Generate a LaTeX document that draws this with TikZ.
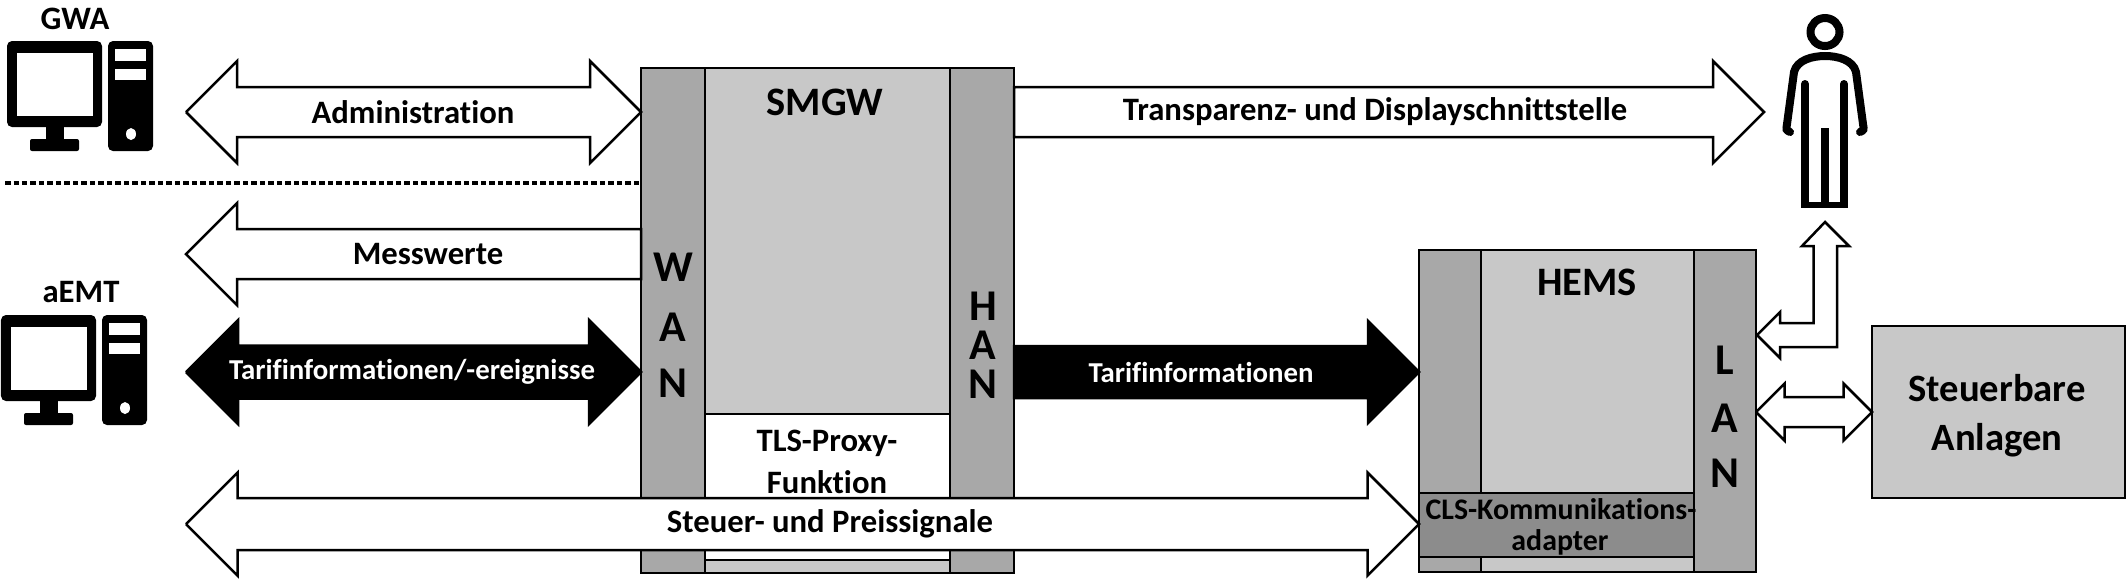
\documentclass[tikz,border=0pt]{standalone}
\usepackage{fontspec}
\setmainfont[Ligatures=NoCommon]{Carlito}
\usetikzlibrary{calc}
\definecolor{portgrey}{RGB}{168,168,168}
\definecolor{coregrey}{RGB}{200,200,200}
\definecolor{clsgrey}{RGB}{140,140,140}
\tikzset{
  box/.style={draw=black,line width=0.25mm,inner sep=0pt,outer sep=0pt},
  lbl/.style={font=\bfseries\fontsize{9.3}{11}\selectfont,inner sep=0pt,align=center},
  lblbig/.style={font=\bfseries\fontsize{11.5}{12}\selectfont,inner sep=0pt,align=center},
  lblsmall/.style={font=\bfseries\fontsize{8.2}{10}\selectfont,inner sep=0pt,align=center},
  letter/.style={font=\bfseries\fontsize{12.5}{13}\selectfont,inner sep=0pt},
  arrowline/.style={draw=black,fill=white,line width=0.25mm,line join=miter},
  twoway/.style 2 args={to path={
    -- ++(#1,-#1) -- ++(0,{#1-#2}) -- ($(\tikztotarget)+(-#1,-#2)$) -- ++(0,{#2-#1})
    -- (\tikztotarget) -- ++(-#1,#1) -- ++(0,{#2-#1}) -- ($(\tikztostart)+(#1,#2)$)
    -- ++(0,{#1-#2}) -- (\tikztostart)
  }},
  oneway/.style n args={3}{to path={
    -- ++(0,-#2) -- ($(\tikztotarget)+({-#3*#1},-#2)$) -- ++(0,{#2-#1})
    -- (\tikztotarget) -- ++({-#3*#1},#1) -- ++(0,{#2-#1}) -- ($(\tikztostart)+(0,#2)$) -- (\tikztostart)
  }},
  computer/.pic={
    \fill[black,rounded corners=0.5mm] (7,41) rectangle (102,127);
    \fill[white] (16.5,53) rectangle (93,116);
    \fill[black] (46,127) rectangle (64,140);
    \fill[black,rounded corners=0.2mm] (30,139) rectangle (79,151);
    \fill[black,rounded corners=0.5mm] (108,41) rectangle (153,151);
    \fill[white] (115,49) rectangle (146,61);
    \fill[white] (115,69) rectangle (146,80);
    \fill[white] (131,134) ellipse (5 and 6);
  }
}
\begin{document}
\begin{tikzpicture}[x=0.1mm,y=-0.1mm]
\useasboundingbox (0,0) rectangle (2126,584);

% computers
\pic at (0,0) {computer};
\pic at (-6,274) {computer};
\node[lbl] (gwa) at (75,19) {GWA};
\node[lbl] (aemt) at (81,292) {aEMT};

% SMGW
\node[box,fill=coregrey,minimum width=24.5mm,minimum height=50.5mm] (smgw) at (827.5,320.5) {};
\node[box,fill=white,minimum width=24.5mm,minimum height=14.6mm] (tls) at (827.5,487) {};
\node[box,fill=portgrey,minimum width=6.4mm,minimum height=50.5mm] (wan) at (673,320.5) {};
\node[box,fill=portgrey,minimum width=6.4mm,minimum height=50.5mm] (han) at (982,320.5) {};
\node[lblbig] (smgwtext) at (825,102) {SMGW};
\node[lbl] (tlstext) at (827,443) {TLS-Proxy-};
\node[lbl] (tlstextb) at (827,482) {Funktion};
\foreach \c/\y in {W/267,A/327,N/383} \node[letter] at (673,\y) {\c};
\foreach \c/\y in {H/306,A/345,N/384} \node[letter] at (983,\y) {\c};

% HEMS
\node[box,fill=portgrey,minimum width=6.2mm,minimum height=32.2mm] (hemsleft) at (1450,411) {};
\node[box,fill=coregrey,minimum width=21.3mm,minimum height=32.2mm] (hems) at (1587.5,411) {};
\node[box,fill=portgrey,minimum width=6.2mm,minimum height=32.2mm] (lan) at (1725,411) {};
\node[box,fill=clsgrey,minimum width=27.5mm,minimum height=6.4mm] (cls) at (1556.5,525) {};
\node[lblbig] (hemstext) at (1587,282) {HEMS};
\node[lblsmall,font=\bfseries\fontsize{8.5}{10}\selectfont] (clstext) at (1561,509) {CLS-Kommunikations-};
\node[lblsmall,font=\bfseries\fontsize{8.5}{10}\selectfont] (clstextb) at (1560,542) {adapter};
\foreach \c/\y in {L/360,A/418,N/473} \node[letter] at (1725,\y) {\c};

% Steuerbare Anlagen
\node[box,fill=coregrey,minimum width=25.3mm,minimum height=17.2mm] (anlagen) at (1998.5,412) {};
\node[lblbig,font=\bfseries\fontsize{11}{12}\selectfont] (anlagentext) at (1997,388) {Steuerbare};
\node[lblbig,font=\bfseries\fontsize{11}{12}\selectfont] (anlagentextb) at (1997,440) {Anlagen};

% arrows
\coordinate (admintip) at (186,112);
\coordinate (messtip) at (186,254);
\coordinate (tariftip) at (186,372);
\coordinate (steuertip) at (186,524);
\coordinate (persontip) at (1764,112);
\draw[arrowline,twoway={51}{25}] (admintip) to (wan.west |- admintip);
\draw[arrowline,oneway={51}{25}{-1}] (wan.west |- messtip) to (messtip);
\draw[arrowline,fill=black,twoway={52}{26.5}] (tariftip) to (wan.west |- tariftip);
\draw[arrowline,twoway={51.5}{26}] (steuertip) to (hemsleft.west |- steuertip);
\draw[arrowline,oneway={51}{25}{1}] (han.east |- persontip) to (persontip);
\draw[arrowline,fill=black,oneway={51}{26}{1}] (han.east |- tariftip) to (hemsleft.west |- tariftip);
\draw[arrowline,twoway={28.5}{15}] (lan.east |- anlagen.west) to (anlagen.west);
\draw[arrowline] (1757,335) -- (1780,312) -- (1780,323) -- (1813.5,323) -- (1813.5,246) -- (1802,246)
  -- (1825,222) -- (1849,246) -- (1837,246) -- (1837,347) -- (1780,347) -- (1780,358) -- cycle;

\node[lbl] (admintext) at (413,112) {Administration};
\node[lbl] (messtext) at (428,254) {Messwerte};
\node[lblsmall,white] (tariftext) at (412,372) {Tarifinformationen/-ereignisse};
\node[lbl] (steuertext) at (830,524) {Steuer- und Preissignale};
\node[lbl] (transtext) at (1375,112) {Transparenz- und Displayschnittstelle};
\node[lblsmall,white] (hantext) at (1201,372) {Tarifinformationen};

% border of the two zones
\coordinate (zonestart) at (5,183);
\draw[line width=0.45mm,dash pattern=on 0.55mm off 0.3mm] (zonestart) -- (wan.west |- zonestart);

% person
\draw[line width=0.8mm] (1825,32) ellipse (14.5 and 14);
\draw[line width=0.8mm,line cap=round] (1790,132) .. controls (1786,130) .. (1787,124) -- (1794,72)
  .. controls (1797,60) and (1812,56) .. (1825,56) .. controls (1838,56) and (1853,60) .. (1856,72)
  -- (1863,124) .. controls (1864,130) .. (1860,132);
\draw[line width=0.8mm,line cap=round] (1805,84) -- (1805,204);
\draw[line width=0.8mm,line cap=round] (1844,84) -- (1844,204);
\fill[black] (1801,202) rectangle (1848,208);
\fill[black] (1821,128) rectangle (1829,202);
\end{tikzpicture}
\end{document}
